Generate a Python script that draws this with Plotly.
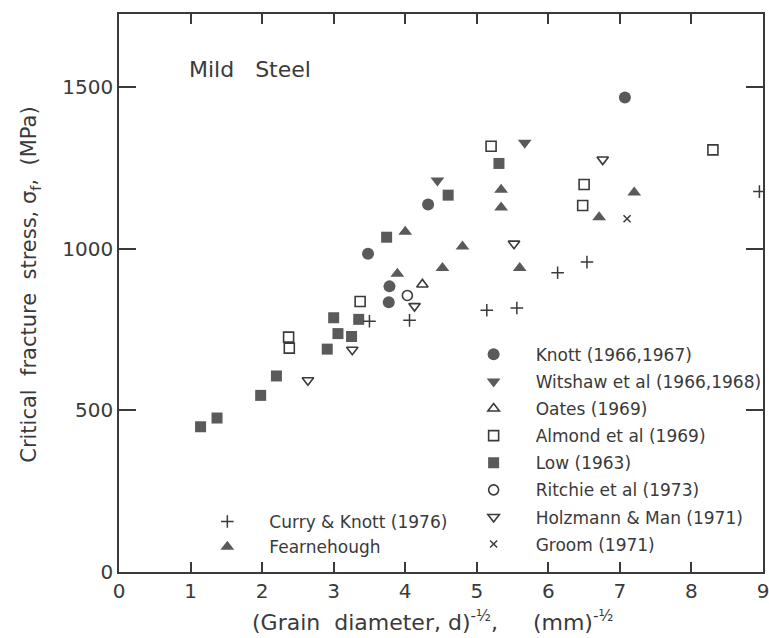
import plotly.graph_objects as go

# ---- data ----
knott_x = [7.07, 4.32, 3.48, 3.78, 3.77]
knott_y = [1467, 1136, 984, 883, 834]

wilshaw_x = [4.45, 5.67]
wilshaw_y = [1210, 1327]

oates_x = [4.24]
oates_y = [889]

almond_x = [5.20, 8.30, 6.50, 6.48, 3.37, 2.37, 2.38]
almond_y = [1316, 1305, 1198, 1133, 836, 726, 692]

low_x = [5.31, 4.60, 3.74, 3.00, 3.35, 3.06, 3.25, 2.91, 2.20, 1.98, 1.37, 1.14]
low_y = [1263, 1165, 1035, 786, 781, 737, 728, 689, 606, 546, 476, 449]

ritchie_x = [4.03]
ritchie_y = [855]

holzmann_x = [6.76, 5.52, 4.13, 3.26, 2.64]
holzmann_y = [1275, 1015, 822, 687, 593]

groom_x = [7.10]
groom_y = [1092]

curry_x = [8.95, 6.54, 6.13, 5.14, 5.56, 3.50, 4.06]
curry_y = [1176, 958, 925, 809, 816, 775, 778]

fearn_x = [4.00, 3.89, 4.80, 4.52, 5.34, 5.34, 5.60, 6.71, 7.20]
fearn_y = [1052, 922, 1006, 940, 1182, 1127, 940, 1097, 1173]

x_ticks = [0, 1, 2, 3, 4, 5, 6, 7, 8, 9]
y_ticks = [0, 500, 1000, 1500]

INK = "#3a3a3a"
FILL = "#5a5a5a"
FONT = "DejaVu Sans"
NB = "\u00a0"

fig = go.Figure()

def add(name, xs, ys, symbol, size, legend, open_=False, lw=1.6):
    marker = dict(symbol=symbol, size=size, color=INK if open_ else FILL,
                  line=dict(width=lw if open_ else 0, color=INK))
    fig.add_trace(go.Scatter(x=xs, y=ys, mode="markers", name=name,
                             marker=marker, legend=legend,
                             legendgroup=name if legend == "legend" else None))

add("Knott" + NB + "(1966,1967)", knott_x, knott_y, "circle", 12, "legend")
add("Witshaw" + NB + "et al" + NB + "(1966,1968)", wilshaw_x, wilshaw_y, "triangle-down", 12, "legend")
add("Oates" + NB + "(1969)", oates_x, oates_y, "triangle-up-open", 10, "legend", True)
add("Almond" + NB + "et al" + NB + "(1969)", almond_x, almond_y, "square-open", 10, "legend", True)
add("Low" + NB + "(1963)", low_x, low_y, "square", 11, "legend")
add("Ritchie" + NB + "et al" + NB + "(1973)", ritchie_x, ritchie_y, "circle-open", 10, "legend", True)
add("Holzmann & Man" + NB + "(1971)", holzmann_x, holzmann_y, "triangle-down-open", 10, "legend", True)
add("Groom" + NB + "(1971)", groom_x, groom_y, "x-thin-open", 7, "legend", True, 1.5)
add("Curry &" + NB + "Knott" + NB + "(1976)", curry_x, curry_y, "cross-thin-open", 9, "legend2", True, 1.5)
add("Fearnehough", fearn_x, fearn_y, "triangle-up", 12, "legend2")

axis_common = dict(showgrid=False, zeroline=False, showline=True, linecolor=INK,
                   linewidth=1.5, mirror="ticks", ticks="inside", tickcolor=INK,
                   tickwidth=1.5, ticklabeloverflow="allow",
                   tickfont=dict(family=FONT, size=20, color=INK))

fig.update_xaxes(range=[0, 9], tickvals=x_ticks, ticklen=10, **axis_common)
fig.update_yaxes(range=[0, 1725], tickvals=y_ticks, ticklen=17, **axis_common)

fig.add_annotation(text="Mild" + NB * 3 + "Steel", xref="paper", yref="paper", x=0.106, y=0.9,
                   xanchor="left", yanchor="middle", showarrow=False,
                   font=dict(family=FONT, size=22, color=INK))

fig.add_annotation(text="(Grain" + NB * 2 + "diameter," + NB + "d)<sup>-½</sup>," + NB * 5 + "(mm)<sup>-½</sup>",
                   xref="paper", yref="paper", x=0.487, y=-0.088,
                   xanchor="center", yanchor="middle", showarrow=False,
                   font=dict(family=FONT, size=22, color=INK))

fig.add_annotation(text="Critical" + NB * 2 + "fracture" + NB * 2 + "stress," + NB + "σ<sub>f</sub>," + NB * 2 + "(MPa)",
                   xref="paper", yref="paper", x=-0.138, y=0.515, textangle=-90,
                   xanchor="center", yanchor="middle", showarrow=False,
                   font=dict(family=FONT, size=21, color=INK))

fig.update_layout(
    width=769, height=638,
    margin=dict(l=119, r=6, t=14, b=66, autoexpand=False),
    plot_bgcolor="white", paper_bgcolor="white",
    showlegend=True,
    legend=dict(x=0.5165, y=0.4215, xanchor="left", yanchor="top", itemwidth=74,
                traceorder="grouped", tracegroupgap=2,
                font=dict(family=FONT, size=17, color=INK), bgcolor="rgba(0,0,0,0)"),
    legend2=dict(x=0.103, y=0.1219, xanchor="left", yanchor="top", itemwidth=74,
                 font=dict(family=FONT, size=17, color=INK), bgcolor="rgba(0,0,0,0)"),
)

fig.write_html("out.html")
